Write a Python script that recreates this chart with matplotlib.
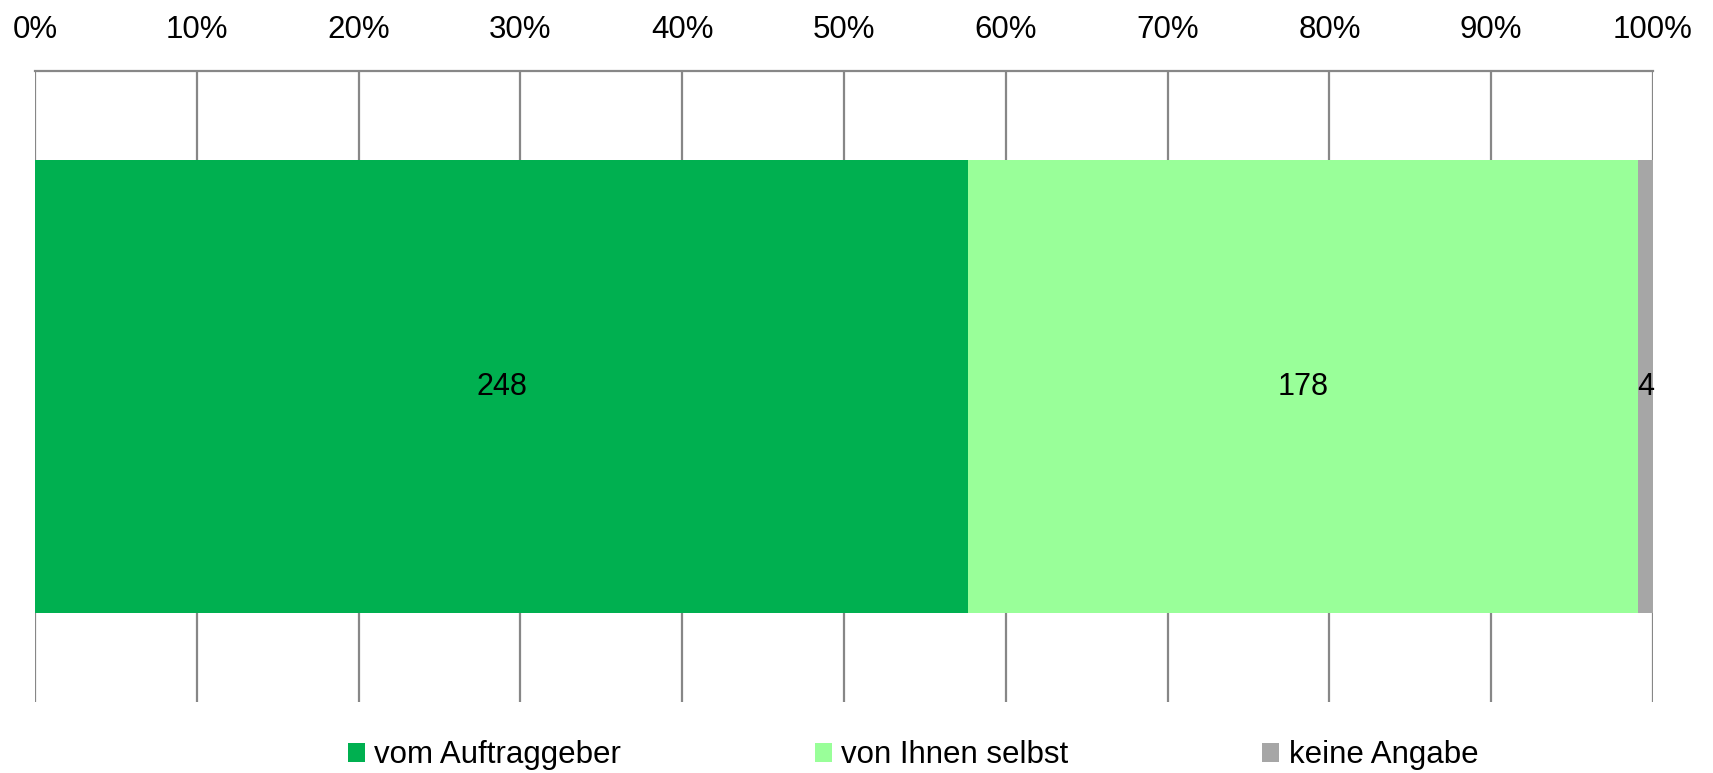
import matplotlib.pyplot as plt
from matplotlib import font_manager
import numpy as np

categories = ['vom Auftraggeber', 'von Ihnen selbst', 'keine Angabe']
counts = [248, 178, 4]
colors = ['#00B050', '#99FF99', '#A6A6A6']
tick_values = list(range(0, 101, 10))
tick_labels = [f'{v}%' for v in tick_values]

plt.rcParams['font.family'] = ['Liberation Sans', 'DejaVu Sans']
names = {f.name for f in font_manager.fontManager.ttflist}
narrow = 'Liberation Sans Narrow' if 'Liberation Sans Narrow' in names else 'Liberation Sans'

fig = plt.figure(figsize=(17.13, 7.73), dpi=100)
ax = fig.add_axes([0.0204, 0.0918, 0.9446, 0.8162])

total = sum(counts)
shares = np.array(counts) / total * 100
left = 0
for name, n, s, c in zip(categories, counts, shares, colors):
    ax.barh(0, s, left=left, height=0.718, color=c, label=name, zorder=3)
    ax.text(left + s / 2, 0, str(n), ha='center', va='center',
            fontsize=22, family=[narrow, 'DejaVu Sans'], zorder=4)
    left += s

ax.set_xlim(0, 100)
ax.set_ylim(-0.5, 0.5)
ax.set_xticks(tick_values)
ax.set_xticklabels(tick_labels, fontsize=22.5)
ax.xaxis.tick_top()
ax.tick_params(axis='x', length=0, pad=19)
ax.set_yticks([])
ax.grid(axis='x', color='#878787', linewidth=1.6, zorder=1)
for side in ['left', 'right', 'bottom']:
    ax.spines[side].set_visible(False)
ax.spines['top'].set_color('#878787')
ax.spines['top'].set_linewidth(1.6)

fig.legend(loc='center', bbox_to_anchor=(0.533, 0.023), ncol=3, frameon=False,
           fontsize=22.5, handlelength=0.55, handleheight=0.55, handletextpad=0.3,
           columnspacing=6.2)

fig.savefig('out.png', dpi=100)
